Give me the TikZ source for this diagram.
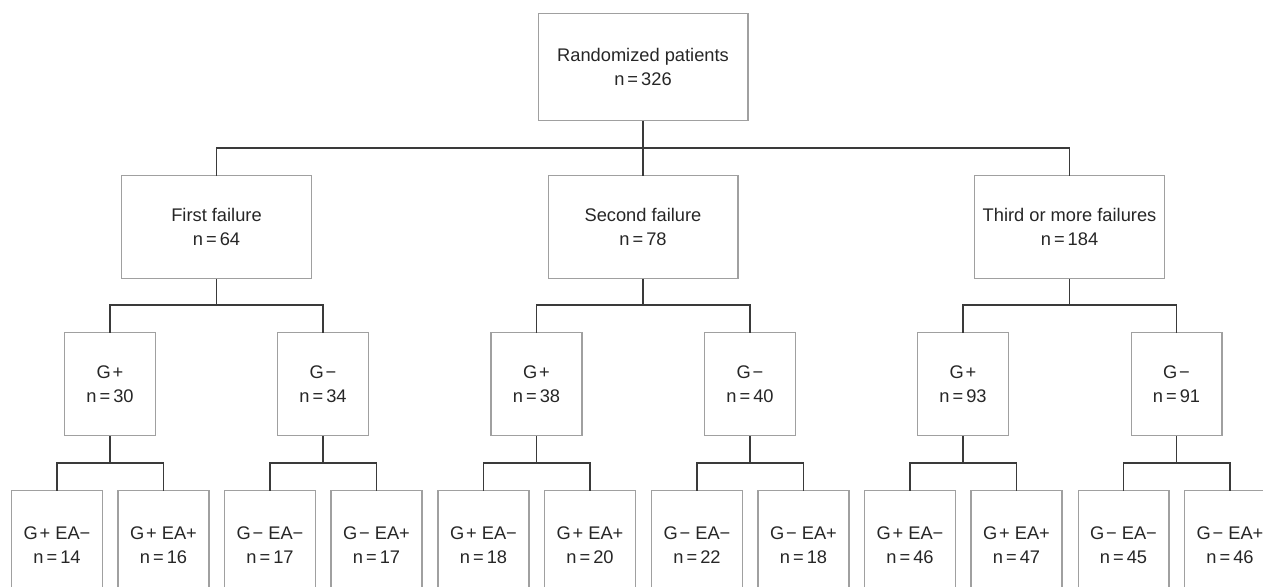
\documentclass[tikz,border=0pt]{standalone}
\usepackage{fontspec}
\setmainfont{Liberation Sans}
\usepackage{xcolor}
\definecolor{boxgray}{HTML}{A0A0A0}
\definecolor{linegray}{HTML}{3A3A3A}
\definecolor{textgray}{HTML}{262626}
\newcommand{\gp}{G\kern1pt+}
\newcommand{\gm}{G\kern1pt−}
\tikzset{
  box/.style={draw=boxgray, line width=0.6pt, anchor=north, align=center, inner sep=0pt,
    text=textgray, font=\fontsize{10.4}{13.6}\selectfont},
  bigbox/.style={box, minimum width=3.8cm, minimum height=2.06cm},
  smallbox/.style={box, minimum width=1.82cm, minimum height=2.06cm},
  leafbox/.style={smallbox, minimum height=2.2cm},
  link/.style={draw=linegray, line width=0.6pt}
}
\begin{document}
\begin{tikzpicture}[line cap=rect,line join=miter,x=0.02cm,y=-0.02cm]
                \useasboundingbox (0,0) rectangle (1263,587);
                \clip (0,0) rectangle (1263,587);
                % root
                \node[box, minimum width=4.2cm, minimum height=2.14cm] (rand) at (643,13) {Randomized patients\\n\,=\,326};
                % failures
                \node[bigbox] (first) at (216.5,175) {First failure\\n\,=\,64};
                \node[bigbox] (second) at (643,175) {Second failure\\n\,=\,78};
                \node[bigbox] (third) at (1069.5,175) {Third or more failures\\n\,=\,184};
                % G+ / G-
                \node[smallbox] (fp) at (110,332) {\gp\\n\,=\,30};
                \node[smallbox] (fm) at (323,332) {\gm\\n\,=\,34};
                \node[smallbox] (sp) at (536.5,332) {\gp\\n\,=\,38};
                \node[smallbox] (sm) at (750,332) {\gm\\n\,=\,40};
                \node[smallbox] (tp) at (963,332) {\gp\\n\,=\,93};
                \node[smallbox] (tm) at (1176.5,332) {\gm\\n\,=\,91};
                % EA- / EA+
                \node[leafbox] (fpm) at (57,490) {\gp{} EA−\\n\,=\,14};
                \node[leafbox] (fpp) at (163.5,490) {\gp{} EA+\\n\,=\,16};
                \node[leafbox] (fmm) at (270,490) {\gm{} EA−\\n\,=\,17};
                \node[leafbox] (fmp) at (376.5,490) {\gm{} EA+\\n\,=\,17};
                \node[leafbox] (spm) at (483.5,490) {\gp{} EA−\\n\,=\,18};
                \node[leafbox] (spp) at (590,490) {\gp{} EA+\\n\,=\,20};
                \node[leafbox] (smm) at (697,490) {\gm{} EA−\\n\,=\,22};
                \node[leafbox] (smp) at (803.5,490) {\gm{} EA+\\n\,=\,18};
                \node[leafbox] (tpm) at (910,490) {\gp{} EA−\\n\,=\,46};
                \node[leafbox] (tpp) at (1016.5,490) {\gp{} EA+\\n\,=\,47};
                \node[leafbox] (tmm) at (1123.5,490) {\gm{} EA−\\n\,=\,45};
                \node[leafbox] (tmp) at (1230,490) {\gm{} EA+\\n\,=\,46};
                % junctions
                \coordinate (jr) at (643,148);
                \coordinate (jf) at (216.5,305);
                \coordinate (js) at (643,305);
                \coordinate (jt) at (1069.5,305);
                \coordinate (jfp) at (110,463);
                \coordinate (jfm) at (323,463);
                \coordinate (jsp) at (536.5,463);
                \coordinate (jsm) at (750,463);
                \coordinate (jtp) at (963,463);
                \coordinate (jtm) at (1176.5,463);
                % connectors
                \draw[link] (rand.south) -- (jr);
                \draw[link] (jr) -| (first.north);
                \draw[link] (jr) -| (second.north);
                \draw[link] (jr) -| (third.north);
                \draw[link] (first.south) -- (jf);
                \draw[link] (jf) -| (fp.north);
                \draw[link] (jf) -| (fm.north);
                \draw[link] (second.south) -- (js);
                \draw[link] (js) -| (sp.north);
                \draw[link] (js) -| (sm.north);
                \draw[link] (third.south) -- (jt);
                \draw[link] (jt) -| (tp.north);
                \draw[link] (jt) -| (tm.north);
                \draw[link] (fp.south) -- (jfp);
                \draw[link] (jfp) -| (fpm.north);
                \draw[link] (jfp) -| (fpp.north);
                \draw[link] (fm.south) -- (jfm);
                \draw[link] (jfm) -| (fmm.north);
                \draw[link] (jfm) -| (fmp.north);
                \draw[link] (sp.south) -- (jsp);
                \draw[link] (jsp) -| (spm.north);
                \draw[link] (jsp) -| (spp.north);
                \draw[link] (sm.south) -- (jsm);
                \draw[link] (jsm) -| (smm.north);
                \draw[link] (jsm) -| (smp.north);
                \draw[link] (tp.south) -- (jtp);
                \draw[link] (jtp) -| (tpm.north);
                \draw[link] (jtp) -| (tpp.north);
                \draw[link] (tm.south) -- (jtm);
                \draw[link] (jtm) -| (tmm.north);
                \draw[link] (jtm) -| (tmp.north);
\end{tikzpicture}
\end{document}
